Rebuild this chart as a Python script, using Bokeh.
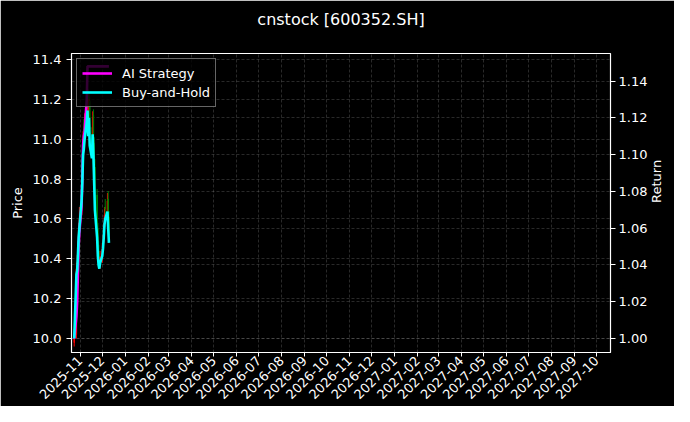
from datetime import datetime
import pandas as pd
from bokeh.plotting import figure
from bokeh.models import (ColumnDataSource, Range1d, LinearAxis, FixedTicker, Grid, Title,
                          DatetimeTickFormatter, NumeralTickFormatter, Legend, LegendItem)
from bokeh.embed import file_html
from bokeh.resources import INLINE
from math import pi

# daily bars, 600352.SH
dates = ["2025-10-24", "2025-10-27", "2025-10-28", "2025-10-29", "2025-10-30", "2025-10-31",
         "2025-11-03", "2025-11-04", "2025-11-05", "2025-11-06", "2025-11-07",
         "2025-11-10", "2025-11-11", "2025-11-12", "2025-11-13", "2025-11-14",
         "2025-11-17", "2025-11-18", "2025-11-19", "2025-11-20", "2025-11-21",
         "2025-11-24", "2025-11-25", "2025-11-26", "2025-11-27", "2025-11-28",
         "2025-12-01", "2025-12-02", "2025-12-03", "2025-12-04", "2025-12-05",
         "2025-12-08", "2025-12-09", "2025-12-10"]
open_ = [9.98, 10.02, 10.33, 10.40, 10.47, 10.58, 10.62, 10.78, 10.86, 11.05, 11.00,
         11.10, 11.17, 11.22, 11.08, 11.19, 11.02, 10.96, 11.12, 10.98, 10.86,
         10.72, 10.55, 10.47, 10.42, 10.37, 10.40, 10.46, 10.50, 10.56, 10.66,
         10.63, 10.70, 10.61]
high = [10.05, 10.38, 10.42, 10.49, 10.58, 10.66, 10.79, 10.90, 11.04, 11.10, 11.13,
        11.22, 11.28, 11.25, 11.23, 11.21, 11.06, 11.14, 11.15, 11.01, 10.90,
        10.75, 10.58, 10.49, 10.44, 10.44, 10.48, 10.52, 10.58, 10.66, 10.70,
        10.73, 10.74, 10.64]
low = [9.96, 10.00, 10.30, 10.36, 10.44, 10.54, 10.60, 10.74, 10.83, 10.99, 10.96,
       11.06, 11.14, 11.07, 11.05, 11.02, 10.95, 10.93, 10.97, 10.83, 10.68,
       10.52, 10.43, 10.38, 10.35, 10.35, 10.38, 10.44, 10.48, 10.54, 10.61,
       10.60, 10.58, 10.50]
close = [10.00, 10.35, 10.37, 10.45, 10.55, 10.60, 10.75, 10.85, 11.00, 11.03, 11.08,
         11.18, 11.24, 11.10, 11.20, 11.05, 10.98, 11.11, 11.00, 10.85, 10.70,
         10.55, 10.45, 10.40, 10.38, 10.41, 10.45, 10.49, 10.55, 10.62, 10.65,
         10.69, 10.60, 10.52]

# cumulative return curves
ai_strategy = [1.000, 1.012, 1.020, 1.035, 1.050, 1.058, 1.072, 1.088, 1.105, 1.110, 1.112,
               1.130, 1.148, 1.148, 1.148, 1.148, 1.148, 1.148, 1.148, 1.148, 1.148,
               1.148, 1.148, 1.148, 1.148, 1.148, 1.148, 1.148, 1.148, 1.148, 1.148,
               1.148, 1.148, 1.148]
buy_and_hold = [1.000, 1.035, 1.037, 1.045, 1.055, 1.060, 1.075, 1.085, 1.100, 1.103, 1.108,
                1.118, 1.124, 1.110, 1.120, 1.105, 1.098, 1.111, 1.100, 1.085, 1.070,
                1.055, 1.045, 1.040, 1.038, 1.041, 1.045, 1.049, 1.055, 1.062, 1.065,
                1.069, 1.060, 1.052]

price_ticks = [10.0, 10.2, 10.4, 10.6, 10.8, 11.0, 11.2, 11.4]
return_ticks = [1.00, 1.02, 1.04, 1.06, 1.08, 1.10, 1.12, 1.14]

FONT = "DejaVu Sans"
FG = "white"

dt = pd.to_datetime(dates)
up = [c >= o for o, c in zip(open_, close)]
src = ColumnDataSource(dict(
    date=dt, open=open_, high=high, low=low, close=close,
    top=[max(o, c) for o, c in zip(open_, close)],
    bottom=[min(o, c) for o, c in zip(open_, close)],
    color=["red" if u else "green" for u in up],
    ai=ai_strategy, bh=buy_and_hold,
))

month_ticks = pd.date_range("2025-11-01", "2027-10-01", freq="MS")
month_ms = [t.value // 10**6 for t in month_ticks]

x_start, x_end = datetime(2025, 10, 20, 8), datetime(2027, 10, 20)
p = figure(width=674, height=406, x_axis_type="datetime", title=None,
           x_range=Range1d(x_start, x_end),
           y_range=Range1d(9.93, 11.43),
           output_backend="svg", toolbar_location=None,
           background_fill_color="black", border_fill_color="black",
           min_border_left=71, min_border_right=50, min_border_top=53, min_border_bottom=40)
p.outline_line_color = FG
p.outline_line_width = 1.2

# title: a blank spacer next to the frame, then the real title further out
p.add_layout(Title(text=" ", text_font_size="14px", standoff=5), "above")
p.add_layout(Title(text="cnstock [600352.SH]", align="center", standoff=4,
                   text_color=FG, text_font=FONT, text_font_size="16px",
                   text_font_style="normal"), "above")

p.extra_y_ranges = {"ret": Range1d(0.9924, 1.155)}

# candles
p.segment("date", "high", "date", "low", source=src, color="color", line_width=1)
p.vbar("date", 0.6 * 86400000, "top", "bottom", source=src, fill_color="color",
       line_color="color")

r_ai = p.line("date", "ai", source=src, color="#ff00ff", line_width=2.6, y_range_name="ret")
r_bh = p.line("date", "bh", source=src, color="#00ffff", line_width=2.6, y_range_name="ret")

# axes
for ax in (p.xaxis[0], p.yaxis[0]):
    ax.axis_line_color = FG
    ax.major_tick_line_color = FG
    ax.minor_tick_line_color = None
    ax.major_tick_out = 5
    ax.major_tick_in = 0
    ax.major_label_text_color = FG
    ax.major_label_text_font = FONT
    ax.major_label_text_font_size = "13px"
    ax.axis_label_text_color = FG
    ax.axis_label_text_font = FONT
    ax.axis_label_text_font_size = "13px"
    ax.axis_label_text_font_style = "normal"

p.xaxis.ticker = FixedTicker(ticks=month_ms)
p.xaxis.formatter = DatetimeTickFormatter(days="%Y-%m", months="%Y-%m", years="%Y-%m")
p.xaxis.major_label_orientation = pi / 4
p.xaxis.major_label_standoff = 2
p.xaxis.major_tick_out = 4

p.yaxis.ticker = FixedTicker(ticks=price_ticks)
p.yaxis.formatter = NumeralTickFormatter(format="0.0")
p.yaxis.axis_label = "Price"

rax = LinearAxis(y_range_name="ret", axis_label="Return",
                 ticker=FixedTicker(ticks=return_ticks),
                 formatter=NumeralTickFormatter(format="0.00"))
rax.axis_line_color = None
rax.major_tick_line_color = FG
rax.minor_tick_line_color = None
rax.major_tick_out = 5
rax.major_tick_in = 0
rax.major_label_standoff = 3
rax.major_label_text_color = FG
rax.major_label_text_font = FONT
rax.major_label_text_font_size = "13px"
rax.axis_label_standoff = 6
rax.axis_label_text_color = FG
rax.axis_label_text_font = FONT
rax.axis_label_text_font_size = "13px"
rax.axis_label_text_font_style = "normal"
rax.axis_label_orientation = pi / 2
p.add_layout(rax, "right")

# grids
for g in (p.xgrid[0], p.ygrid[0]):
    g.grid_line_color = "#9a9a9a"
    g.grid_line_alpha = 0.45
    g.grid_line_dash = "3 2"
    g.grid_line_width = 0.6
p.xgrid.ticker = FixedTicker(ticks=month_ms)
p.ygrid.ticker = FixedTicker(ticks=price_ticks)
rgrid = Grid(dimension=1, ticker=FixedTicker(ticks=return_ticks), y_range_name="ret",
             grid_line_color="#9a9a9a", grid_line_alpha=0.45, grid_line_dash="3 2",
             grid_line_width=0.6)
p.add_layout(rgrid)

legend = Legend(items=[LegendItem(label="AI Strategy", renderers=[r_ai]),
                       LegendItem(label="Buy-and-Hold", renderers=[r_bh])],
                location="top_left", margin=5, padding=5, spacing=1,
                glyph_width=30, glyph_height=18, label_standoff=10,
                label_height=18,
                background_fill_color="black", background_fill_alpha=0.8,
                border_line_color="#cccccc", border_line_width=1,
                label_text_color=FG, label_text_font=FONT, label_text_font_size="13px")
p.add_layout(legend)

open("out.html", "w").write(file_html(p, INLINE))
